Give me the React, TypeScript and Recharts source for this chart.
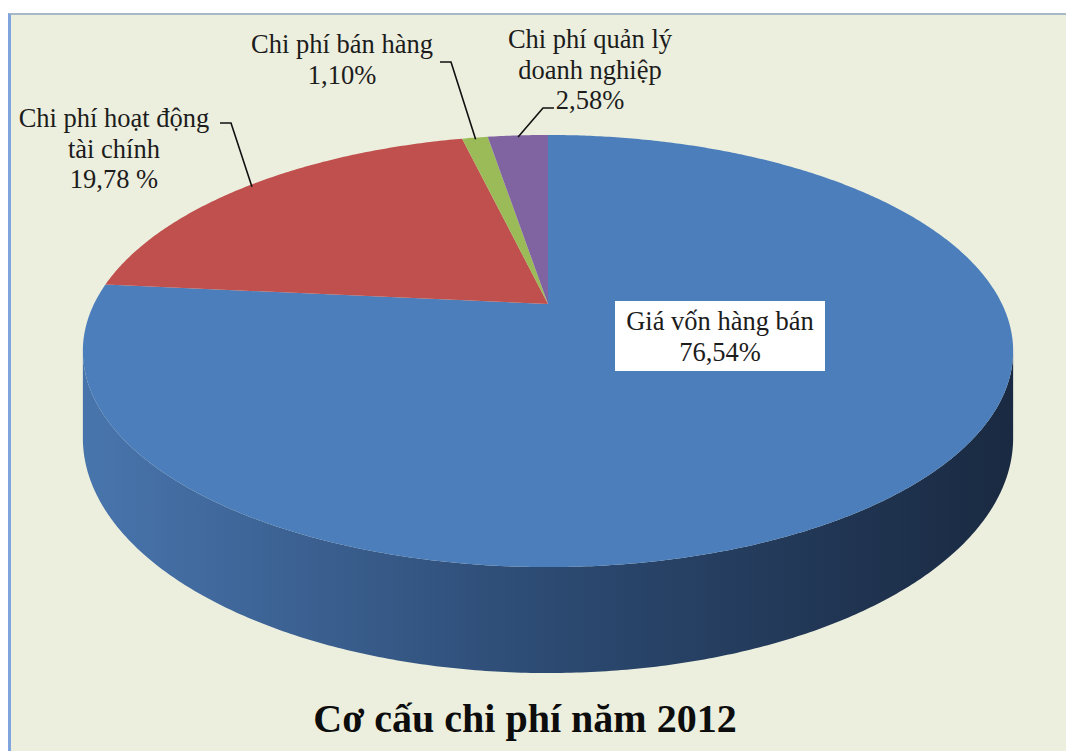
import { Pie, PieChart } from 'recharts';

// values
const categories = ['Giá vốn hàng bán', 'Chi phí hoạt động tài chính', 'Chi phí bán hàng', 'Chi phí quản lý doanh nghiệp'];
const nameLines = [['Giá vốn hàng bán'], ['Chi phí hoạt động', 'tài chính'], ['Chi phí bán hàng'], ['Chi phí quản lý', 'doanh nghiệp']];
const shares = [76.54, 19.78, 1.1, 2.58];
const shareLabels = ['76,54%', '19,78 %', '1,10%', '2,58%'];
const title = 'Cơ cấu chi phí năm 2012';

const topColors = ['#4B7EBB', '#C0504D', '#9BBB59', '#8064A2'];
const wallColors = [
  ['#4874AC', '#2C4A72', '#1A2A42'],
  ['#A0423F', '#7A302E', '#4E1D1C'],
  ['#7F9A48', '#607436', '#3E4B23'],
  ['#6A5287', '#4F3D66', '#332741'],
];

const SERIF = "'Liberation Serif', 'Times New Roman', 'DejaVu Serif', serif";

// label placement (layout only)
const labelLayout = [
  { x: 720, y: 330, box: { x: 615, y: 301, w: 210, h: 70 }, elbow: null },
  { x: 114, y: 127, box: null, elbow: [[220, 123], [231, 123]] },
  { x: 342, y: 53, box: null, elbow: [[440, 62], [451, 62]] },
  { x: 590, y: 48, box: null, elbow: [[554, 108], [543, 108]] },
];

const data = categories.map((name, i) => ({ name, value: shares[i] }));

// 3D perspective look of the Excel pie
const FLAT = 0.4534; // vertical squash of the disc
const PERSP = 0.2176; // perspective strength
const DEPTH = 0.1826; // wall height relative to radius

function project(cx: number, cy: number, r: number, angle: number, depth: number) {
  const a = (angle * Math.PI) / 180;
  const u = Math.cos(a);
  const v = -Math.sin(a);
  const w = 1 - PERSP * v;
  return [cx + (r * u) / w, cy + (r * FLAT * v + r * DEPTH * depth) / w];
}

function sweep(s: number, e: number) {
  const n = Math.max(2, Math.ceil(Math.abs(s - e) / 0.5));
  return Array.from({ length: n + 1 }, (_, i) => s + ((e - s) * i) / n);
}

const pts = (list: number[][]) => list.map((p) => `${p[0].toFixed(2)},${p[1].toFixed(2)}`).join(' ');

function renderSlice(props: any) {
  const { cx, cy, outerRadius, startAngle, endAngle, index } = props;
  const angles = sweep(startAngle, endAngle);
  const walls: number[][] = [];
  let run: number[] = [];
  angles.forEach((ang) => {
    if (-Math.sin((ang * Math.PI) / 180) >= PERSP) run.push(ang);
    else if (run.length) {
      walls.push(run);
      run = [];
    }
  });
  if (run.length) walls.push(run);
  const top = [[cx, cy], ...angles.map((a) => project(cx, cy, outerRadius, a, 0))];
  const gid = `wall-${index}`;
  const wc = wallColors[index];
  return (
    <g key={`slice-${index}`}>
      <defs>
        <linearGradient id={gid} gradientUnits="userSpaceOnUse" x1={cx - outerRadius} y1={0} x2={cx + outerRadius} y2={0}>
          <stop offset="0%" stopColor={wc[0]} />
          <stop offset="50%" stopColor={wc[1]} />
          <stop offset="100%" stopColor={wc[2]} />
        </linearGradient>
      </defs>
      {walls.map((runAngles, k) => {
        const upper = runAngles.map((a) => project(cx, cy, outerRadius, a, 0));
        const lower = runAngles.map((a) => project(cx, cy, outerRadius, a, 1)).reverse();
        return <polygon key={k} points={pts([...upper, ...lower])} fill={`url(#${gid})`} />;
      })}
      <polygon points={pts(top)} fill={topColors[index]} />
    </g>
  );
}

function renderLabel(props: any) {
  const { cx, cy, outerRadius, midAngle, index } = props;
  const lay = labelLayout[index];
  const lines = [...nameLines[index], shareLabels[index]];
  const anchor = project(cx, cy, outerRadius * 0.99, midAngle, 0);
  return (
    <g key={`label-${index}`}>
      {lay.box && <rect x={lay.box.x} y={lay.box.y} width={lay.box.w} height={lay.box.h} fill="#ffffff" />}
      {lay.elbow && <polyline points={pts([...lay.elbow, anchor])} fill="none" stroke="#111111" strokeWidth={1.6} />}
      <text x={lay.x} y={lay.y} textAnchor="middle" style={{ fontFamily: SERIF, fontSize: 26.5 }} fill="#1c1c1c">
        {lines.map((l, i) => (
          <tspan key={i} x={lay.x} dy={i === 0 ? 0 : 30.5}>
            {l}
          </tspan>
        ))}
      </text>
    </g>
  );
}

export default function App() {
  return (
    <div style={{ position: 'absolute', left: 0, top: 0, width: 1066, height: 751, background: '#ffffff', overflow: 'hidden' }}>
      <div
        style={{
          position: 'absolute',
          left: 8,
          top: 13,
          width: 1058,
          height: 738,
          boxSizing: 'border-box',
          background: '#ECEFDE',
          borderTop: '2px solid #A7B8C6',
          borderLeft: '3px solid #7FA4DE',
        }}
      />
      <div style={{ position: 'absolute', left: 0, top: 0 }}>
        <PieChart width={1066} height={751} margin={{ top: 0, right: 0, bottom: 0, left: 0 }}>
          <Pie
            data={data}
            dataKey="value"
            nameKey="name"
            cx={548}
            cy={304}
            outerRadius={454}
            startAngle={90}
            endAngle={-270}
            fill="transparent"
            stroke="none"
            label={renderSlice}
            labelLine={false}
            isAnimationActive={false}
          />
          <Pie
            data={data}
            dataKey="value"
            nameKey="name"
            cx={548}
            cy={304}
            outerRadius={454}
            startAngle={90}
            endAngle={-270}
            fill="transparent"
            stroke="none"
            label={renderLabel}
            labelLine={false}
            isAnimationActive={false}
          />
        </PieChart>
      </div>
      <svg width={1066} height={751} style={{ position: 'absolute', left: 0, top: 0, pointerEvents: 'none' }}>
        <text x={525} y={732} textAnchor="middle" style={{ fontFamily: SERIF, fontWeight: 'bold', fontSize: 40 }} fill="#0d0d0d">
          {title}
        </text>
      </svg>
    </div>
  );
}
